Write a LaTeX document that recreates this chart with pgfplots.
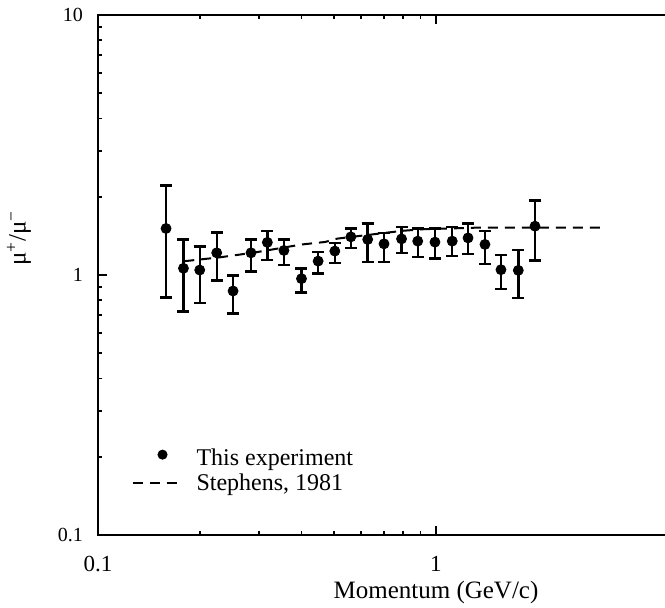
\documentclass[border=0pt]{standalone}
\usepackage{fontspec}
\setmainfont{Liberation Serif}
\usepackage{pgfplots}
\pgfplotsset{compat=1.18}
\usepackage{pgfplotstable}

\pgfplotstableread{
x      y      ep     em
0.159  1.510  0.697  0.692
0.179  1.061  0.309  0.338
0.200  1.045  0.243  0.264
0.2245 1.217  0.241  0.263
0.251  0.868  0.129  0.157
0.2836 1.217  0.153  0.187
0.317  1.335  0.139  0.191
0.355  1.243  0.127  0.151
0.400  0.968  0.093  0.113
0.448  1.131  0.097  0.116
0.502  1.236  0.094  0.124
0.560  1.402  0.108  0.130
0.628  1.370  0.208  0.246
0.702  1.318  0.135  0.194
0.791  1.377  0.154  0.160
0.883  1.350  0.160  0.178
0.993  1.338  0.172  0.179
1.117  1.350  0.177  0.167
1.244  1.389  0.189  0.182
1.396  1.311  0.163  0.206
1.557  1.048  0.145  0.166
1.752  1.042  0.205  0.228
1.963  1.541  0.391  0.403
}\datatable

\pgfplotstableread{
x     y
0.18  1.13
0.23  1.17
0.29  1.22
0.40  1.31
0.47  1.34
0.51  1.38
0.70  1.45
0.80  1.48
0.92  1.50
1.30  1.52
3.10  1.52
}\stephens

\begin{document}
\begin{tikzpicture}
\useasboundingbox (-49pt,-36pt) rectangle (283.5pt,267.5pt);
\clip (-49pt,-36pt) rectangle (283.5pt,267.5pt);
\begin{axis}[
  at={(0,0)}, anchor=south west,
  scale only axis,
  width=338pt, height=260pt,
  xmode=log, ymode=log,
  xmin=0.1, xmax=10, ymin=0.1, ymax=10,
  xtick={0.1,1}, xticklabels={0.1,1},
  ytick={0.1,1,10}, yticklabels={0.1,1,10},
  tick align=inside,
  major tick length=4.5pt, minor tick length=2.2pt,
  every tick/.style={black, line width=0.9pt},
  axis line style={line width=1.3pt},
  /pgf/number format/assume math mode=true,
  xticklabel style={font=\fontsize{11.5}{13}\selectfont, yshift=-7pt},
  yticklabel style={font=\fontsize{10}{12}\selectfont, xshift=-4pt},
  xlabel={Momentum (GeV/c)},
  xlabel style={font=\fontsize{12.5}{14}\selectfont, at={(axis description cs:0.5,0)}, anchor=north, yshift=-19.5pt},
  ylabel={μ\textsuperscript{+}/μ\textsuperscript{−}},
  ylabel style={font=\fontsize{12.5}{14}\selectfont, at={(axis description cs:-0.117,0.571)}, anchor=center},
  legend style={draw=none, fill=none, at={(axis description cs:0.049,0.074)}, anchor=south west,
    font=\fontsize{12}{12.5}\selectfont, row sep=-0.5pt, column sep=5pt, inner sep=0pt,
    nodes={inner sep=1.5pt}},
  legend cell align=left,
]
\addplot[only marks, mark=*, mark size=2.5pt, black, forget plot,
  error bars/.cd, y dir=both, y explicit,
  error bar style={line width=1.2pt},
  error mark options={rotate=90, mark size=3pt, line width=1.2pt}]
  table[x=x, y=y, y error plus=ep, y error minus=em] {\datatable};
\addplot[black, line width=1pt, dash pattern=on 5pt off 3.5pt, forget plot] table[x=x,y=y] {\stephens};
\addlegendimage{legend image code/.code={\fill[black] (15pt,2pt) circle (2.3pt);}}
\addlegendimage{legend image code/.code={\draw[black, line width=1pt, dash pattern=on 5pt off 3.5pt] (0pt,0pt) -- (25pt,0pt);}}
\legend{This experiment, {Stephens, 1981}}
\end{axis}
\end{tikzpicture}
\end{document}
